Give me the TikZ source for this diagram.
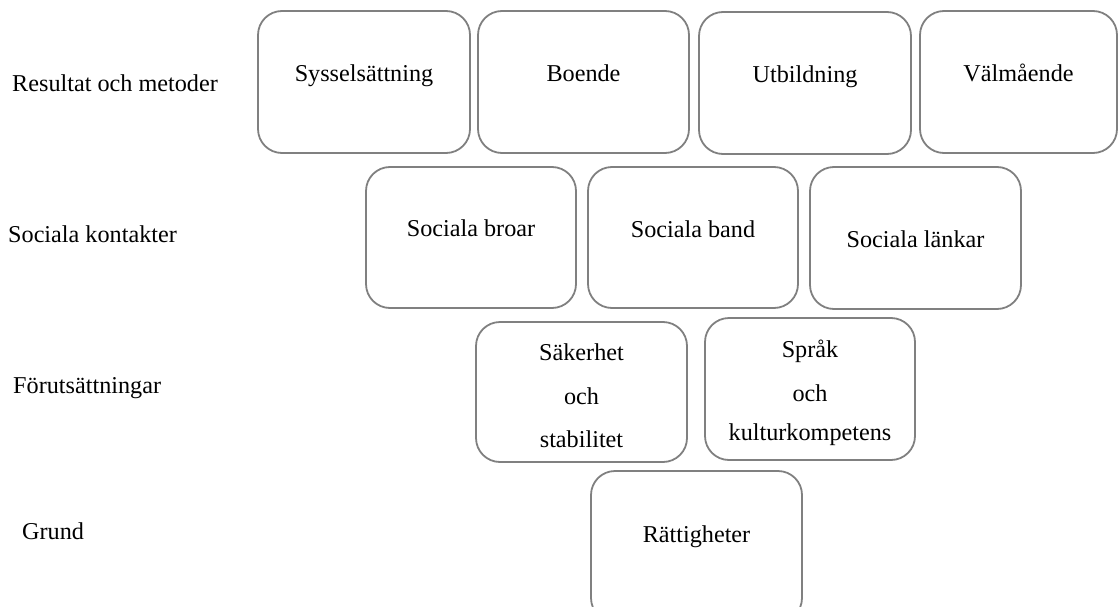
\documentclass[tikz,border=0pt]{standalone}
\usepackage{fontspec}
\setmainfont{Liberation Serif}
\definecolor{boxgray}{HTML}{808080}
\begin{document}
\begin{tikzpicture}[x=1pt,y=-1pt,
  box/.style={draw=boxgray,line width=1.8pt,rounded corners=24pt,inner sep=0pt},
  txt/.style={anchor=base,inner sep=0pt,font=\fontsize{24.2}{29}\selectfont},
  side/.style={anchor=base west,inner sep=0pt,font=\fontsize{24.2}{29}\selectfont}]
\useasboundingbox (0,0) rectangle (1118,607);
% row 1
\draw[box] (258,11) rectangle (470,153) node[pos=0.5] (b1) {};
\draw[box] (478,11) rectangle (689,153) node[pos=0.5] (b2) {};
\draw[box] (699,12) rectangle (911,154) node[pos=0.5] (b3) {};
\draw[box] (920,11) rectangle (1117,153) node[pos=0.5] (b4) {};
\node[txt] (t1) at (364,82) {Sysselsättning};
\node[txt] (t2) at (583.5,82) {Boende};
\node[txt] (t3) at (805,83) {Utbildning};
\node[txt] (t4) at (1018.5,82) {Välmående};
% row 2
\draw[box] (366,167) rectangle (576,308) node[pos=0.5] (c1) {};
\draw[box] (588,167) rectangle (798,308) node[pos=0.5] (c2) {};
\draw[box] (810,167) rectangle (1021,309) node[pos=0.5] (c3) {};
\node[txt] (u1) at (471,236) {Sociala broar};
\node[txt] (u2) at (693,237) {Sociala band};
\node[txt] (u3) at (915.5,247) {Sociala länkar};
% row 3
\draw[box] (476,322) rectangle (687,462) node[pos=0.5] (d1) {};
\draw[box] (705,318) rectangle (915,460) node[pos=0.5] (d2) {};
\node[txt] (v1a) at (581.5,360) {Säkerhet};
\node[txt] (v1b) at (581.5,404) {och};
\node[txt] (v1c) at (581.5,447) {stabilitet};
\node[txt] (v2a) at (810,357) {Språk};
\node[txt] (v2b) at (810,401) {och};
\node[txt] (v2c) at (810,440) {kulturkompetens};
% row 4
\draw[box] (591,471) rectangle (802,622) node[pos=0.5] (e1) {};
\node[txt] (w1) at (696.5,542) {Rättigheter};
% side labels
\node[side] (s1) at (12,92) {Resultat och metoder};
\node[side] (s2) at (8,242) {Sociala kontakter};
\node[side] (s3) at (13,393) {Förutsättningar};
\node[side] (s4) at (22,539) {Grund};
\end{tikzpicture}
\end{document}
